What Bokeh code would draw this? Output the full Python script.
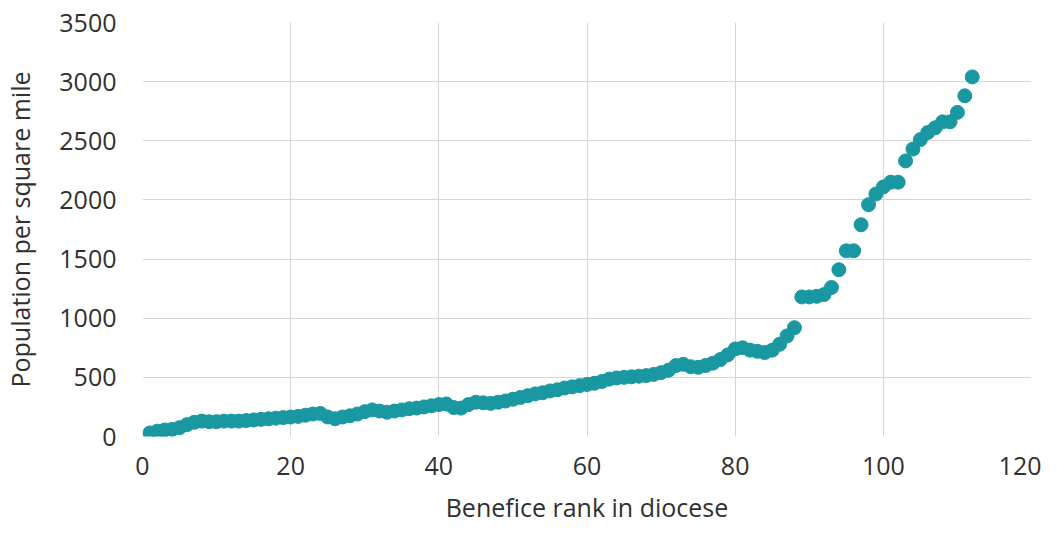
from bokeh.plotting import figure
from bokeh.models import Range1d, SingleIntervalTicker, ColumnDataSource
from bokeh.embed import file_html
from bokeh.resources import INLINE

rank = list(range(1, 113))
density = [
    30, 45, 55, 60, 75, 100, 120, 130, 125, 125,
    130, 130, 130, 135, 140, 145, 150, 155, 160, 165,
    170, 180, 190, 195, 165, 150, 165, 175, 190, 210,
    225, 215, 205, 215, 225, 235, 240, 250, 260, 270,
    275, 245, 240, 270, 290, 285, 280, 290, 300, 315,
    330, 345, 360, 370, 385, 395, 410, 420, 430, 440,
    450, 465, 485, 495, 500, 505, 510, 515, 525, 540,
    560, 600, 610, 590, 585, 600, 620, 650, 690, 740,
    750, 730, 720, 710, 730, 780, 850, 920, 1180, 1180,
    1185, 1200, 1260, 1410, 1570, 1570, 1790, 1960, 2050, 2110,
    2150, 2150, 2330, 2430, 2510, 2570, 2610, 2660, 2660, 2740,
    2880, 3040,
]

x_label = "Benefice rank in diocese"
y_label = "Population per square mile"

FONT = "Open Sans"
TEXT = "#303030"
TEAL = "#1a98a2"

src = ColumnDataSource(dict(x=rank, y=density))

p = figure(width=1041, height=526, output_backend="svg", toolbar_location=None,
           x_range=Range1d(0, 120), y_range=Range1d(0, 3500),
           min_border_left=142, min_border_right=10, min_border_top=22, min_border_bottom=89)
p.outline_line_color = None
p.background_fill_color = "white"

p.scatter("x", "y", source=src, size=14, fill_color=TEAL, line_color=TEAL)

p.xaxis.ticker = SingleIntervalTicker(interval=20)
p.yaxis.ticker = SingleIntervalTicker(interval=500)
p.xgrid.ticker = SingleIntervalTicker(interval=20)
p.ygrid.ticker = SingleIntervalTicker(interval=500)
for g in (p.xgrid, p.ygrid):
    g.grid_line_color = "#d6d6d6"
    g.grid_line_width = 1

for ax in (p.xaxis, p.yaxis):
    ax.axis_line_color = None
    ax.major_tick_line_color = None
    ax.minor_tick_line_color = None
    ax.major_label_text_font = FONT
    ax.major_label_text_font_size = "25px"
    ax.major_label_text_color = TEXT
    ax.axis_label_text_font = FONT
    ax.axis_label_text_font_size = "25px"
    ax.axis_label_text_font_style = "normal"
    ax.axis_label_text_color = TEXT

p.xaxis.axis_label = x_label
p.yaxis.axis_label = y_label
p.xaxis.major_label_standoff = 14
p.yaxis.major_label_standoff = 20
p.xaxis.axis_label_standoff = 12
p.yaxis.axis_label_standoff = 19

open("out.html", "w").write(file_html(p, INLINE))
